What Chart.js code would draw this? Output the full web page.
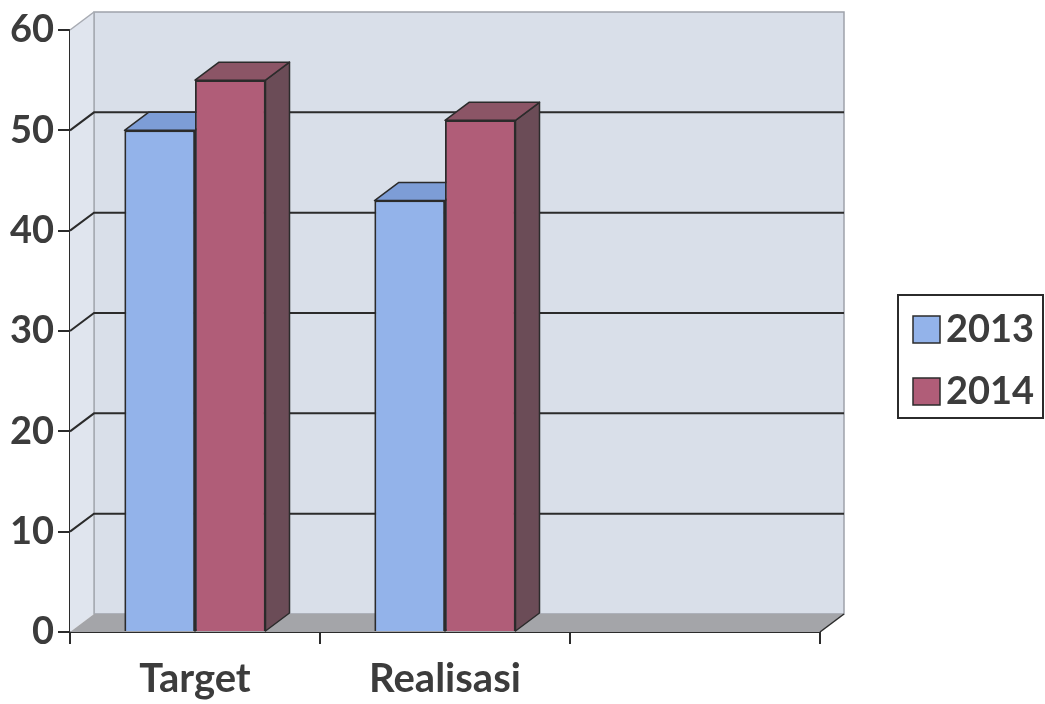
<!DOCTYPE html>
<html>
<head>
<meta charset="utf-8">
<script src="https://cdn.jsdelivr.net/npm/chart.js@4/dist/chart.umd.min.js"></script>
<style>
  html, body { margin: 0; padding: 0; background: #ffffff; }
  #wrap { width: 1045px; height: 704px; }
</style>
</head>
<body>
<div id="wrap"><canvas id="c" width="1045" height="704"></canvas></div>
<script>
// Categories along the x axis (third slot is an empty category)
const categories = ['Target', 'Realisasi', ''];
// Series values
const series2013 = [50, 43, null];
const series2014 = [55, 51, null];
const seriesLabels = ['2013', '2014'];
// Y axis ticks
const yTicks = [0, 10, 20, 30, 40, 50, 60];

// Face colours for each series: front, top, side
const faces = [
  { front: '#93b3ea', top: '#7d9dd6', side: '#5f7fb5' },
  { front: '#b05d78', top: '#8b5566', side: '#6b4c57' }
];

// Depth of the 3D projection (px)
const DX = 24, DY = 18;
const INK = '#2b2b2b';
const TEXT = '#3c3c3c';

function poly(ctx, pts, fill, stroke, lw) {
  ctx.beginPath();
  ctx.moveTo(pts[0][0], pts[0][1]);
  for (let i = 1; i < pts.length; i++) ctx.lineTo(pts[i][0], pts[i][1]);
  ctx.closePath();
  if (fill) { ctx.fillStyle = fill; ctx.fill(); }
  if (stroke) { ctx.strokeStyle = stroke; ctx.lineWidth = lw || 1; ctx.stroke(); }
}

// Walls, floor, gridlines and bar depth faces of the 3D box
const boxPlugin = {
  id: 'box3d',
  beforeDatasetsDraw(chart) {
    const ctx = chart.ctx;
    const a = chart.chartArea;
    const y = chart.scales.y;
    const L = a.left, R = a.right, T = a.top, B = a.bottom;
    ctx.save();
    // back wall
    poly(ctx, [[L + DX, T - DY], [R + DX, T - DY], [R + DX, B - DY], [L + DX, B - DY]], '#d9dfe9', '#9ea3ab', 1.5);
    // left wall
    poly(ctx, [[L, T], [L + DX, T - DY], [L + DX, B - DY], [L, B]], '#e0e5ee', null);
    ctx.strokeStyle = '#a7abb2'; ctx.lineWidth = 1.5;
    ctx.beginPath(); ctx.moveTo(L + DX, T - DY); ctx.lineTo(L + DX, B - DY); ctx.stroke();
    ctx.beginPath(); ctx.moveTo(L, T); ctx.lineTo(L + DX, T - DY); ctx.stroke();
    // floor
    poly(ctx, [[L, B], [R, B], [R + DX, B - DY], [L + DX, B - DY]], '#a4a5a9', null);
    ctx.strokeStyle = INK; ctx.lineWidth = 1.5;
    ctx.beginPath(); ctx.moveTo(R, B); ctx.lineTo(R + DX, B - DY); ctx.stroke();
    // gridlines: diagonal on left wall + horizontal on back wall
    ctx.strokeStyle = INK; ctx.lineWidth = 2;
    yTicks.forEach(v => {
      if (v === 0 || v === yTicks[yTicks.length - 1]) return;
      const py = y.getPixelForValue(v);
      ctx.beginPath();
      ctx.moveTo(L, py);
      ctx.lineTo(L + DX, py - DY);
      ctx.lineTo(R + DX, py - DY);
      ctx.stroke();
    });
    ctx.restore();
  },
  afterDatasetsDraw(chart) {
    // bars as boxes, left to right: side and top faces, then the front face
    const ctx = chart.ctx;
    ctx.save();
    ctx.lineJoin = 'round';
    categories.forEach((c, j) => {
      chart.data.datasets.forEach((ds, i) => {
        if (ds.data[j] == null) return;
        const el = chart.getDatasetMeta(i).data[j];
        const f = faces[i];
        const p = el.getProps(['x', 'y', 'base', 'width'], true);
        const l = p.x - p.width / 2, r = p.x + p.width / 2;
        poly(ctx, [[r, p.y], [r + DX, p.y - DY], [r + DX, p.base - DY], [r, p.base]], f.side, INK, 1.5);
        poly(ctx, [[l, p.y], [r, p.y], [r + DX, p.y - DY], [l + DX, p.y - DY]], f.top, INK, 1.5);
        el.draw(ctx);
      });
    });
    ctx.restore();
  },
  afterDraw(chart) {
    // boxed legend on the right
    const ctx = chart.ctx;
    ctx.save();
    const bx = 898, by = 295, bw = 145, bh = 123;
    ctx.strokeStyle = INK; ctx.lineWidth = 2;
    ctx.strokeRect(bx, by, bw, bh);
    ctx.font = 'bold 38px Lato';
    ctx.textBaseline = 'middle';
    chart.data.datasets.forEach((ds, i) => {
      const cy = by + 34 + i * 62;
      ctx.fillStyle = ds.backgroundColor;
      ctx.fillRect(913, cy - 13, 27, 27);
      ctx.strokeStyle = INK; ctx.lineWidth = 1.5;
      ctx.strokeRect(913, cy - 13, 27, 27);
      ctx.fillStyle = TEXT;
      ctx.fillText(ds.label, 946, cy + 1);
    });
    ctx.restore();
  }
};

new Chart(document.getElementById('c'), {
  type: 'bar',
  data: {
    labels: categories,
    datasets: [
      { label: seriesLabels[0], data: series2013, backgroundColor: faces[0].front, borderColor: INK, borderWidth: 1.8 },
      { label: seriesLabels[1], data: series2014, backgroundColor: faces[1].front, borderColor: INK, borderWidth: 1.8 }
    ]
  },
  options: {
    responsive: false,
    animation: false,
    events: [],
    categoryPercentage: 0.564,
    barPercentage: 1.0,
    layout: { padding: { top: 30, right: 225, left: 0, bottom: 0 } },
    plugins: { legend: { display: false }, tooltip: { enabled: false } },
    scales: {
      x: {
        afterFit(s) { s.height = 72; },
        grid: { drawOnChartArea: false, color: INK, lineWidth: 2, tickLength: 12 },
        border: { color: INK, width: 2 },
        ticks: { color: TEXT, font: { family: 'Lato', weight: 'bold', size: 40 }, padding: 11 }
      },
      y: {
        min: 0, max: 60,
        afterFit(s) { s.width = 70; },
        afterBuildTicks(s) { s.ticks = yTicks.map(v => ({ value: v })); },
        grid: { drawOnChartArea: false, color: INK, lineWidth: 2, tickLength: 12 },
        border: { color: INK, width: 2 },
        ticks: { color: TEXT, font: { family: 'Lato', weight: 'bold', size: 38 }, padding: 4 }
      }
    }
  },
  plugins: [boxPlugin]
});
</script>
</body>
</html>
